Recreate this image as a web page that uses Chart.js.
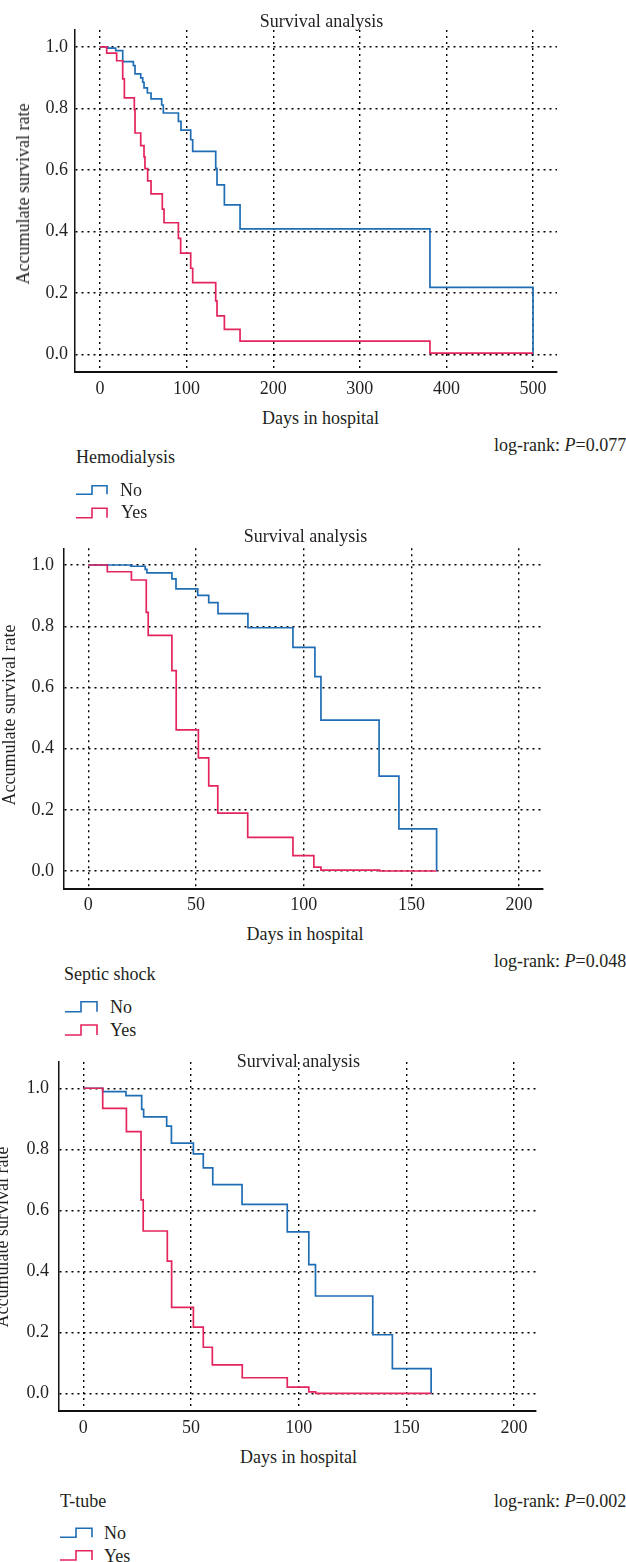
<!DOCTYPE html>
<html><head><meta charset="utf-8">
<script src="https://cdn.jsdelivr.net/npm/chart.js@4.4.1/dist/chart.umd.min.js"></script>
<style>
html,body{margin:0;padding:0;background:#fff;}
body{width:626px;height:1562px;position:relative;overflow:hidden;font-family:"Liberation Serif","DejaVu Serif",serif;color:#231f20;}
canvas{position:absolute;left:0;}
.t{position:absolute;font-size:18px;line-height:18px;white-space:nowrap;}
.c{transform:translateX(-50%);}
.r{transform:translate(-50%,-50%) rotate(-90deg);}
svg{position:absolute;left:0;top:0;}
</style></head><body>
<canvas id="c1" width="626" height="400" style="top:0px"></canvas>
<canvas id="c2" width="626" height="400" style="top:520px"></canvas>
<canvas id="c3" width="626" height="400" style="top:1040px"></canvas>

<div class="t c" style="left:321.6px;top:11.7px">Survival analysis</div>
<div class="t c" style="left:320.5px;top:409px">Days in hospital</div>
<div class="t r" style="left:22.7px;top:193.5px">Accumulate survival rate</div>
<div class="t" style="left:494px;top:436px">log-rank: <i>P</i>=0.077</div>
<div class="t" style="left:76px;top:448.3px">Hemodialysis</div>
<div class="t" style="left:120px;top:481px">No</div>
<div class="t" style="left:121px;top:503.3px">Yes</div>

<div class="t c" style="left:305.6px;top:527.3px">Survival analysis</div>
<div class="t c" style="left:305px;top:925px">Days in hospital</div>
<div class="t r" style="left:8.9px;top:715px">Accumulate survival rate</div>
<div class="t" style="left:494px;top:951.7px">log-rank: <i>P</i>=0.048</div>
<div class="t" style="left:64px;top:965px">Septic shock</div>
<div class="t" style="left:110px;top:997.7px">No</div>
<div class="t" style="left:110px;top:1020.7px">Yes</div>

<div class="t c" style="left:298.4px;top:1051.7px">Survival analysis</div>
<div class="t c" style="left:298.5px;top:1447.7px">Days in hospital</div>
<div class="t r" style="left:1.9px;top:1236.5px">Accumulate survival rate</div>
<div class="t" style="left:494px;top:1491.7px">log-rank: <i>P</i>=0.002</div>
<div class="t" style="left:60px;top:1491.7px">T-tube</div>
<div class="t" style="left:104px;top:1524.3px">No</div>
<div class="t" style="left:104px;top:1546.7px">Yes</div>

<svg width="626" height="1562" id="leg"></svg>

<script>
// ---------- data (days, survival) ----------
const hemoNoDays  = [0, 9, 18.1, 26.2, 38.5, 40.4, 47, 49.3, 50.8, 54.7, 58.9, 71.2, 73.1, 90.5, 93.5, 104.7, 107, 133.6, 135.1, 143.6, 161.7, 381, 500];
const hemoNoSurv  = [1, 0.996, 0.988, 0.952, 0.939, 0.912, 0.899, 0.885, 0.867, 0.850, 0.831, 0.811, 0.785, 0.758, 0.729, 0.698, 0.660, 0.605, 0.551, 0.486, 0.408, 0.218, 0];
const hemoYesDays = [0, 7.7, 19.2, 26.2, 28.1, 39.6, 40.4, 47, 50.8, 51.9, 55, 58.9, 71.9, 73.9, 90.5, 93.1, 104.7, 107, 133.6, 135.1, 143.6, 161.7, 381, 500];
const hemoYesSurv = [1, 0.980, 0.955, 0.896, 0.834, 0.796, 0.720, 0.679, 0.642, 0.604, 0.564, 0.522, 0.472, 0.428, 0.377, 0.329, 0.280, 0.233, 0.174, 0.125, 0.081, 0.043, 0.004, 0.004];

const septNoDays  = [0, 19.7, 26.4, 27.2, 38.8, 40.7, 50.8, 55.9, 60.2, 74.1, 95, 105.2, 108, 135, 144.2, 161.7];
const septNoSurv  = [1, 0.996, 0.986, 0.974, 0.955, 0.922, 0.901, 0.877, 0.841, 0.795, 0.731, 0.635, 0.493, 0.310, 0.138, 0];
const septYesDays = [0, 8.8, 20, 26.9, 27.8, 38.8, 40.8, 51.1, 55.9, 60.1, 74, 95, 104.7, 108, 135.3, 161.7];
const septYesSurv = [1, 0.978, 0.951, 0.845, 0.770, 0.655, 0.461, 0.370, 0.278, 0.189, 0.110, 0.050, 0.013, 0.003, 0.0, 0.0];

const ttubeNoDays  = [0, 9, 19.8, 27.1, 28, 38.7, 40.9, 51.1, 55.7, 60.1, 73.7, 94.7, 104.7, 107.8, 134.4, 143.5, 161.5];
const ttubeNoSurv  = [1, 0.989, 0.976, 0.931, 0.906, 0.876, 0.820, 0.785, 0.739, 0.684, 0.619, 0.529, 0.422, 0.319, 0.192, 0.081, 0];
const ttubeYesDays = [0, 9, 20, 26.8, 27.8, 39, 41, 51.1, 55.7, 59.9, 73.8, 94.7, 104.7, 107.9, 161.5];
const ttubeYesSurv = [1, 0.934, 0.858, 0.634, 0.532, 0.433, 0.282, 0.217, 0.151, 0.093, 0.051, 0.020, 0.005, 0, 0];

const hemoXTicks = [0, 100, 200, 300, 400, 500];
const shortXTicks = [0, 50, 100, 150, 200];
const yTicks = [0, 0.2, 0.4, 0.6, 0.8, 1.0];

// ---------- drawing ----------
const BLUE = '#1f6db5', RED = '#e4245c', INK = '#231f20';
Chart.defaults.font.family = '"Liberation Serif","DejaVu Serif",serif';
Chart.defaults.font.size = 18;
Chart.defaults.color = INK;

function pts(d, s) { return d.map((x, i) => ({x: x, y: s[i]})); }

function makeChart(id, p) {
  new Chart(document.getElementById(id), {
    type: 'line',
    data: {datasets: [
      {data: pts(p.yes[0], p.yes[1]), borderColor: RED, borderWidth: 1.7, stepped: true, pointRadius: 0, fill: false, order: 0},
      {data: pts(p.no[0], p.no[1]), borderColor: BLUE, borderWidth: 1.7, stepped: true, pointRadius: 0, fill: false, order: 1}
    ]},
    options: {
      responsive: false, animation: false, devicePixelRatio: 1,
      layout: {padding: {top: p.padTop, right: p.padRight, left: 0, bottom: 0}},
      plugins: {legend: {display: false}, tooltip: {enabled: false}, title: {display: false}},
      scales: {
        x: {
          type: 'linear', min: p.xMin, max: p.xMax,
          afterBuildTicks: s => { s.ticks = p.xTicks.map(v => ({value: v})); },
          afterFit: s => { s.height = p.xHeight; },
          grid: {color: '#000', lineWidth: 1.4, drawTicks: false},
          border: {display: true, color: '#111', width: 2, dash: [2, 4]},
          ticks: {padding: p.xPad, color: INK, font: {size: 18}, maxRotation: 0, autoSkip: false, callback: v => String(v)}
        },
        y: {
          type: 'linear', min: p.yMin, max: p.yMax,
          afterBuildTicks: s => { s.ticks = yTicks.map(v => ({value: v})); },
          afterFit: s => { s.width = p.yWidth; },
          grid: {color: '#000', lineWidth: 1.4, drawTicks: false},
          border: {display: true, color: '#111', width: 1.5, dash: [2, 4]},
          ticks: {padding: p.yPad, color: INK, font: {size: 18}, autoSkip: false, callback: v => v.toFixed(1)}
        }
      }
    }
  });
}

makeChart('c1', {no: [hemoNoDays, hemoNoSurv], yes: [hemoYesDays, hemoYesSurv], xTicks: hemoXTicks,
  xMin: -28.9, xMax: 527.7, yMin: -0.0576, yMax: 1.055, padTop: 30, padRight: 69, yWidth: 75, xHeight: 28, xPad: 6, yPad: 7});
makeChart('c2', {no: [septNoDays, septNoSurv], yes: [septYesDays, septYesSurv], xTicks: shortXTicks,
  xMin: -11.3, xMax: 211.1, yMin: -0.0578, yMax: 1.0546, padTop: 28.3, padRight: 83, yWidth: 64, xHeight: 31.3, xPad: 5.5, yPad: 10});
makeChart('c3', {no: [ttubeNoDays, ttubeNoSurv], yes: [ttubeYesDays, ttubeYesSurv], xTicks: shortXTicks,
  xMin: -11.3, xMax: 210.2, yMin: -0.057, yMax: 1.086, padTop: 22, padRight: 90, yWidth: 59, xHeight: 29.3, xPad: 7, yPad: 10});

// legend step icons
const legendIcons = [
  [76, 92, 107, 485.7, 494.3, BLUE], [76, 92, 107, 508.3, 517.7, RED],
  [65, 81, 97, 1001.7, 1011.7, BLUE], [65, 81, 97, 1025, 1035, RED],
  [60, 76, 92, 1528.3, 1537.3, BLUE], [60, 76, 92, 1550.7, 1560, RED]
];
const svg = document.getElementById('leg');
legendIcons.forEach(([a, m, b, t, bt, col]) => {
  const pl = document.createElementNS('http://www.w3.org/2000/svg', 'polyline');
  pl.setAttribute('points', `${a},${bt} ${m},${bt} ${m},${t} ${b},${t} ${b},${bt}`);
  pl.setAttribute('fill', 'none');
  pl.setAttribute('stroke', col);
  pl.setAttribute('stroke-width', '1.6');
  svg.appendChild(pl);
});
</script>
</body></html>
